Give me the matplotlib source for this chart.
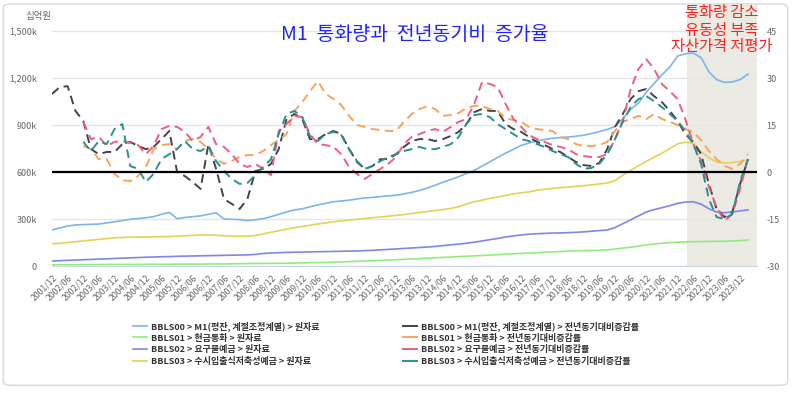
import numpy as np
import pandas as pd
import matplotlib.pyplot as plt
from matplotlib.patches import FancyBboxPatch

plt.rcParams['font.family'] = ['Noto Sans CJK KR', 'DejaVu Sans']

# quarterly points, 2001/12 .. 2024/03
dates = pd.date_range('2001-12-01', periods=90, freq='3MS')
nan = np.nan

# levels (십억원, shown as k)
m1_level = [230, 243, 255, 262, 264, 266, 268, 275, 282, 290, 298, 303,
            308, 315, 330, 342, 302, 310, 315, 320, 330, 340, 300, 298,
            296, 290, 295, 302, 315, 330, 345, 358, 365, 378, 390, 400,
            410, 415, 420, 428, 434, 438, 443, 448, 452, 460, 470, 482,
            498, 515, 535, 552, 570, 590, 610, 638, 665, 693, 720, 745,
            770, 785, 798, 808, 815, 820, 823, 828, 835, 845, 858, 872,
            890, 940, 1000, 1040, 1110, 1165, 1220, 1270, 1340, 1355, 1360, 1330,
            1240, 1190, 1172, 1175, 1190, 1225]
cash_level = [8, 8, 8, 9, 9, 9, 9, 10, 10, 10, 10, 10,
              11, 11, 11, 11, 12, 12, 12, 12, 13, 13, 13, 14,
              15, 15, 16, 16, 17, 17, 18, 19, 20, 21, 22, 23,
              25, 26, 28, 30, 32, 34, 36, 38, 40, 42, 45, 47,
              50, 52, 55, 57, 60, 62, 65, 67, 70, 72, 75, 78,
              80, 83, 85, 88, 90, 92, 95, 97, 98, 99, 100, 103,
              108, 114, 120, 127, 135, 140, 145, 149, 152, 154, 155, 156,
              157, 157, 158, 160, 162, 166]
demand_level = [32, 34, 36, 38, 40, 42, 44, 46, 48, 50, 52, 54,
                56, 57, 59, 60, 62, 63, 64, 65, 66, 67, 68, 69,
                70, 71, 74, 80, 83, 85, 87, 88, 89, 90, 91, 92,
                93, 94, 95, 96, 98, 100, 103, 106, 109, 112, 115, 118,
                121, 125, 130, 135, 140, 145, 152, 160, 168, 176, 185, 192,
                198, 203, 206, 208, 210, 211, 213, 215, 218, 222, 226, 230,
                245, 270, 295, 320, 345, 360, 372, 385, 400, 408, 410, 395,
                365, 345, 340, 345, 352, 358]
savings_level = [142, 145, 150, 155, 160, 165, 170, 175, 180, 182, 184, 185,
                 186, 186, 187, 188, 190, 193, 196, 198, 198, 196, 193, 191,
                 190, 191, 195, 205, 215, 225, 235, 245, 252, 260, 268, 275,
                 282, 288, 293, 298, 303, 308, 313, 318, 323, 328, 335, 342,
                 348, 354, 360, 368, 378, 395, 410, 420, 432, 440, 450, 460,
                 467, 473, 483, 490, 495, 500, 504, 508, 512, 518, 524, 530,
                 545, 580, 610, 640, 668, 695, 720, 750, 780, 790, 785, 730,
                 690, 665, 658, 660, 668, 678]

# year-on-year change (%)
m1_yoy = [24.9, 27.1, 27.4, 19.5, 16.3, 7.3, 5.7, 6.4, 6.4, 8.9, 9.6, 8.3,
          7.3, 8.0, 10.5, 13.1, 0.0, -1.3, -3.2, -5.4, 8.9, 1.0, -8.6, -10.2,
          -11.8, -8.6, 0.3, 1.0, 2.6, 7.3, 16.9, 18.5, 16.9, 10.5, 10.5, 12.1,
          13.1, 12.1, 7.3, 3.2, 1.0, 1.9, 4.1, 4.1, 5.7, 8.0, 9.9, 10.5,
          10.5, 9.9, 10.5, 11.5, 12.8, 15.3, 19.1, 20.1, 19.5, 19.5, 15.3, 13.7,
          12.8, 11.2, 9.6, 8.6, 7.3, 6.4, 4.8, 3.2, 2.2, 1.9, 2.9, 7.3,
          14.4, 18.5, 23.3, 25.8, 26.5, 24.2, 22.3, 19.5, 16.3, 12.1, 9.6, 5.7,
          -3.8, -11.8, -14.4, -12.8, -3.8, 4.1]
cash_yoy = [nan, nan, nan, nan, 8.3, 7.3, 4.1, 4.1, -0.6, -2.6, -2.9, -1.3,
            1.6, 7.3, 8.6, 8.9, 7.3, 9.9, 10.5, 9.6, 7.3, 4.1, 2.6, 3.5,
            4.8, 5.4, 5.4, 6.7, 8.6, 10.2, 12.1, 19.5, 22.3, 25.8, 29.0, 24.9,
            23.3, 21.4, 17.9, 15.0, 14.4, 13.7, 13.4, 13.1, 13.1, 16.0, 18.5, 20.1,
            21.0, 20.1, 17.9, 18.2, 18.8, 20.4, 21.1, 21.1, 20.1, 19.5, 17.2, 16.6,
            16.0, 14.4, 13.7, 13.4, 13.1, 11.2, 10.5, 8.9, 8.3, 8.3, 8.6, 9.6,
            13.1, 16.0, 16.9, 17.9, 16.9, 18.5, 16.9, 16.0, 15.0, 13.7, 12.8, 10.2,
            6.7, 4.1, 1.9, 1.0, 2.6, 5.7]
demand_yoy = [nan, nan, nan, nan, 16.0, 10.5, 11.2, 8.3, 9.6, 9.9, 9.3, 8.6,
              5.7, 8.3, 13.7, 14.7, 14.4, 12.8, 9.9, 11.2, 14.4, 8.9, 8.0, 5.7,
              2.6, 1.6, 2.6, 1.0, -1.0, 13.1, 15.3, 17.9, 17.5, 12.1, 8.9, 8.6,
              8.0, 5.7, 1.6, -0.6, -2.2, -0.6, 1.0, 2.6, 4.8, 8.9, 11.2, 12.1,
              13.1, 13.7, 12.8, 14.4, 16.0, 16.9, 21.7, 28.7, 28.1, 27.1, 21.7, 16.9,
              14.4, 11.8, 10.5, 9.6, 8.6, 8.0, 7.3, 5.7, 5.1, 4.8, 4.8, 5.7,
              10.5, 16.3, 26.5, 32.9, 36.0, 32.9, 28.1, 25.8, 23.3, 16.9, 8.9, 3.5,
              -4.8, -11.2, -15.6, -13.4, -5.4, 4.1]
savings_yoy = [nan, nan, nan, nan, 9.6, 6.7, 9.9, 8.9, 13.7, 15.3, 1.9, 1.0,
               -3.2, -0.6, 4.1, 5.7, 7.3, 9.9, 7.3, 6.7, 8.3, 3.5, 0.3, -2.2,
               -3.8, -3.5, -1.0, 1.6, 4.1, 12.1, 18.5, 19.5, 17.5, 11.5, 9.9, 12.1,
               12.8, 11.8, 7.3, 3.5, 1.0, 1.9, 3.5, 4.8, 5.7, 6.7, 7.3, 8.0,
               7.3, 7.3, 8.0, 8.9, 11.2, 15.3, 18.2, 18.5, 17.5, 15.3, 13.7, 12.1,
               10.5, 9.9, 8.9, 8.0, 6.7, 5.7, 4.8, 2.6, 1.0, 1.3, 2.6, 5.7,
               10.5, 16.0, 20.7, 23.3, 24.2, 22.6, 20.7, 18.5, 16.3, 13.1, 8.9, 2.6,
               -8.6, -14.4, -15.0, -13.4, -2.9, 4.1]

level_labels = ['BBLS00 > M1(평잔, 계절조정계열) > 원자료',
                'BBLS01 > 현금통화 > 원자료',
                'BBLS02 > 요구불예금 > 원자료',
                'BBLS03 > 수시입출식저축성예금 > 원자료']
yoy_labels = ['BBLS00 > M1(평잔, 계절조정계열) > 전년동기대비증감률',
              'BBLS01 > 현금통화 > 전년동기대비증감률',
              'BBLS02 > 요구불예금 > 전년동기대비증감률',
              'BBLS03 > 수시입출식저축성예금 > 전년동기대비증감률']

fig = plt.figure(figsize=(7.94, 3.94), dpi=100)
fig.patches.append(FancyBboxPatch((0.004, 0.022), 0.988, 0.968,
                                  boxstyle='round,pad=0,rounding_size=0.01',
                                  transform=fig.transFigure, fill=False,
                                  edgecolor='#d9d9d9', lw=1))

ax = fig.add_axes([52/794, 1-266/394, 705/794, 261/394])
ax2 = ax.twinx()

x_end = pd.Timestamp('2024-06-15')
ax.axvspan(pd.Timestamp('2022-03-15'), x_end, color='#ebeae3', zorder=0, lw=0)

level_colors = ['#7cb5ec', '#90ed7d', '#8085e9', '#e4d354']
yoy_colors = ['#434348', '#f7a35c', '#f15c80', '#2b908f']
levels = [m1_level, cash_level, demand_level, savings_level]
yoys = [m1_yoy, cash_yoy, demand_yoy, savings_yoy]

h_lvl = []
for vals, c, lab in zip(levels, level_colors, level_labels):
    h, = ax.plot(dates, vals, color=c, lw=1.2, label=lab)
    h_lvl.append(h)
for vals, c, lab in zip(yoys, yoy_colors, yoy_labels):
    ax2.plot(dates, vals, color=c, lw=1.4, ls=(0, (4.5, 2.8)), label=lab)
ax2.axhline(0, color='black', lw=1.6)

ax.set_xlim(pd.Timestamp('2001-12-01'), x_end)
ax.set_ylim(0, 1666)
ax2.set_ylim(-30, 53.3)

ticks = pd.date_range('2001-12-01', '2023-12-01', freq='6MS')
ax.set_xticks(ticks)
ax.set_xticklabels([t.strftime('%Y/%m') for t in ticks], rotation=45, ha='right',
                   rotation_mode='anchor', fontsize=6.3, color='#666666')
ax.set_yticks([0, 300, 600, 900, 1200, 1500])
ax.set_yticklabels(['0', '300k', '600k', '900k', '1,200k', '1,500k'],
                   fontsize=6.5, color='#666666')
ax2.set_yticks([-30, -15, 0, 15, 30, 45])
ax2.set_yticklabels(['-30', '-15', '0', '15', '30', '45'], fontsize=6.5, color='#666666')
ax.tick_params(axis='both', length=0)
ax.tick_params(axis='y', pad=11)
ax.tick_params(axis='x', pad=5)
ax2.tick_params(axis='y', length=0, pad=7)
ax.grid(axis='y', color='#e6e6e6', lw=1)
ax.set_axisbelow(True)
for a in (ax, ax2):
    for s in ('top', 'left', 'right'):
        a.spines[s].set_visible(False)
    a.spines['bottom'].set_color('#ccd6eb')

fig.text(38/794, 1-17/394, '십억원', fontsize=6.8, color='#666666', ha='center', va='center')
fig.text(415/794, 1-35/394, 'M1  통화량과  전년동기비  증가율', fontsize=14, color='#2222ff',
         ha='center', va='center')
fig.text(722/794, 1-30/394, '통화량 감소\n유동성 부족\n자산가격 저평가', fontsize=11,
         color='#ff2020', ha='center', va='center', linespacing=1.0)

leg_kw = dict(frameon=False, handlelength=1.5, handletextpad=0.5,
              labelspacing=0.3, borderpad=0, borderaxespad=0, loc='upper left',
              prop={'size': 6.5, 'weight': 'bold'}, labelcolor='#333333')
fig.legend(handles=h_lvl, bbox_to_anchor=(133/794, 1-321/394), **leg_kw)
leg2 = [plt.Line2D([], [], color=c, lw=1.4) for c in yoy_colors]
fig.legend(leg2, yoy_labels, bbox_to_anchor=(403/794, 1-321/394), **leg_kw)

fig.savefig('out.png', dpi=100)
